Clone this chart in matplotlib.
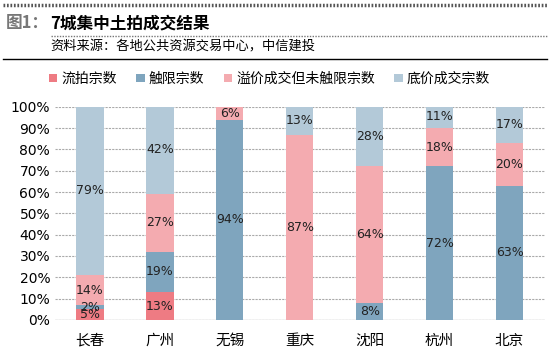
import matplotlib.pyplot as plt
import numpy as np

plt.rcParams['font.family'] = ['Noto Sans CJK SC', 'DejaVu Sans']

# 7城集中土拍成交结果 (%)
cities = ["长春", "广州", "无锡", "重庆", "沈阳", "杭州", "北京"]
liupai = [5, 13, 0, 0, 0, 0, 0]          # 流拍宗数
chuxian = [2, 19, 94, 0, 8, 72, 63]      # 触限宗数
yijia = [14, 27, 6, 87, 64, 18, 20]      # 溢价成交但未触限宗数
dijia = [79, 42, 0, 13, 28, 11, 17]      # 底价成交宗数

series = [liupai, chuxian, yijia, dijia]
names = ["流拍宗数", "触限宗数", "溢价成交但未触限宗数", "底价成交宗数"]
colors = ["#EE7B83", "#7FA5BE", "#F4ABB0", "#B3C9D8"]

fig = plt.figure(figsize=(5.5, 3.55), dpi=100)
ax = fig.add_axes([0.1, 0.099, 0.89, 0.6])

x = np.arange(len(cities))
bottom = np.zeros(len(cities))
handles = []
for vals, name, col in zip(series, names, colors):
    vals = np.array(vals, dtype=float)
    h = ax.bar(x, vals, 0.39, bottom=bottom, color=col, label=name, zorder=2)
    handles.append(h)
    # label each non-empty segment in its middle
    for xi, v, b in zip(x, vals, bottom):
        if v > 0:
            ax.text(xi, b + v / 2, f"{int(v)}%", ha="center", va="center",
                    fontsize=9, color="#222222", zorder=3, family="DejaVu Sans")
    bottom += vals

ax.set_xlim(-0.5, 6.5)
ax.set_ylim(0, 100)
ax.set_yticks(np.arange(0, 101, 10))
ax.set_yticklabels([f"{v}%" for v in range(0, 101, 10)], fontsize=10, family="DejaVu Sans")
ax.set_xticks(x)
ax.set_xticklabels(cities, fontsize=10.5)
ax.tick_params(length=0)
ax.tick_params(axis="x", pad=10)
ax.grid(axis="y", color="#aaaaaa", linestyle=(0, (2, 1)), linewidth=0.8, zorder=0)
for s in ax.spines.values():
    s.set_visible(False)
ax.axhline(0, color="#cccccc", linewidth=1, zorder=1)

fig.legend(handles=handles, labels=names, loc="center", bbox_to_anchor=(0.49, 0.778),
           ncol=4, frameon=False, fontsize=10, handlelength=0.6, handleheight=0.6,
           handletextpad=0.3, columnspacing=1.4)

# header
fig.text(0.01, 0.935, "图1：", fontsize=12, fontweight="bold", color="#777777", va="center")
fig.text(0.092, 0.935, "7城集中土拍成交结果", fontsize=12, fontweight="bold", color="black", va="center")
fig.text(0.092, 0.868, "资料来源：各地公共资源交易中心，中信建投", fontsize=9.5, color="black", va="center")
fig.add_artist(plt.Line2D([0.005, 0.995], [0.985, 0.985], color="#555555", linewidth=2.5,
                          linestyle=(0, (0.5, 0.5))))
fig.add_artist(plt.Line2D([0.092, 0.995], [0.898, 0.898], color="#777777", linewidth=1,
                          linestyle=(0, (1, 1))))
fig.add_artist(plt.Line2D([0.005, 0.995], [0.835, 0.835], color="black", linewidth=1))

fig.savefig("out.png", dpi=100)
